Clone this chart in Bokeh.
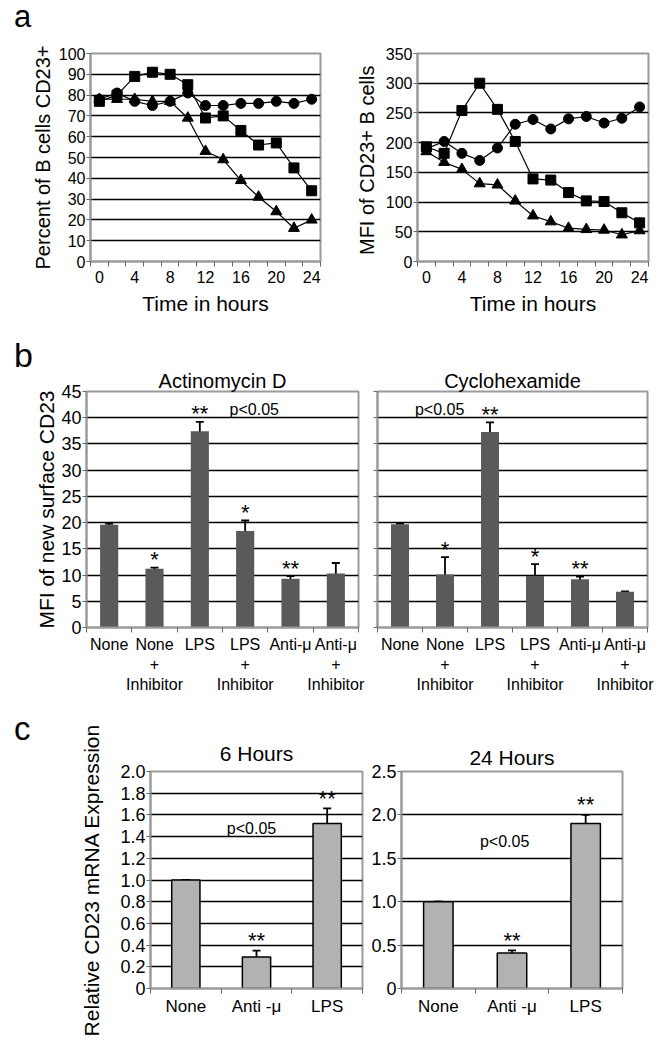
from bokeh.plotting import figure
from bokeh.layouts import column, row
from bokeh.models import ColumnDataSource, FixedTicker, Whisker, TeeHead, Label, Title, Div
from bokeh.core.properties import value
from bokeh.embed import file_html
from bokeh.resources import INLINE

FONT = "Liberation Sans"

# ---------------- panel a data ----------------
hours = [0, 2, 4, 6, 8, 10, 12, 14, 16, 18, 20, 22, 24]
hour_ticks = [0, 4, 8, 12, 16, 20, 24]
hour_bounds = [-1, 1, 3, 5, 7, 9, 11, 13, 15, 17, 19, 21, 23, 25]

pct_square = [77, 80, 89, 91, 90, 85, 69, 70, 63, 56, 57, 45, 34]
pct_circle = [78, 81, 77, 75, 77, 81, 75, 75, 76, 76, 77, 76, 78]
pct_triangle = [78, 78, 78, 77, 77, 69, 53, 49, 39, 31, 24, 16, 20]
pct_ticks = [0, 10, 20, 30, 40, 50, 60, 70, 80, 90, 100]

mfi_square = [193, 182, 254, 300, 256, 202, 139, 137, 116, 102, 101, 82, 65]
mfi_circle = [190, 202, 182, 170, 191, 231, 239, 223, 240, 244, 233, 241, 260]
mfi_triangle = [185, 167, 155, 131, 129, 102, 77, 67, 56, 54, 53, 45, 52]
mfi_ticks = [0, 50, 100, 150, 200, 250, 300, 350]

# ---------------- panel b data ----------------
b_categories = ["None", "None\n+\nInhibitor", "LPS", "LPS\n+\nInhibitor",
                "Anti-\u03bc", "Anti-\u03bc\n+\nInhibitor"]
act_mean = [19.6, 11.2, 37.4, 18.4, 9.3, 10.3]
act_err = [0.2, 0.2, 1.8, 2.0, 0.5, 2.0]
act_stars = ["", "*", "**", "*", "**", ""]
cyc_mean = [19.7, 10.1, 37.3, 9.8, 9.2, 6.8]
cyc_err = [0.2, 3.3, 1.8, 2.3, 0.5, 0.1]
cyc_stars = ["", "*", "**", "*", "**", ""]
b_ticks = [0, 5, 10, 15, 20, 25, 30, 35, 40, 45]

# ---------------- panel c data ----------------
c_categories = ["None", "Anti -\u03bc", "LPS"]
h6_mean = [1.0, 0.29, 1.52]
h6_err = [0.0, 0.06, 0.14]
h6_stars = ["", "**", "**"]
h24_mean = [1.0, 0.41, 1.90]
h24_err = [0.0, 0.03, 0.10]
h24_stars = ["", "**", "**"]
h6_ticks = [0, 0.2, 0.4, 0.6, 0.8, 1.0, 1.2, 1.4, 1.6, 1.8, 2.0]
h24_ticks = [0, 0.5, 1.0, 1.5, 2.0, 2.5]

GRAY = "#9a9a9a"


def base_fig(w, h, borders, x_range, y_range):
    L, R, T, B = borders
    p = figure(width=w, height=h, x_range=x_range, y_range=y_range,
               output_backend="svg", toolbar_location=None,
               min_border_left=L, min_border_right=R,
               min_border_top=T, min_border_bottom=B)
    p.background_fill_color = "white"
    p.border_fill_color = "white"
    p.outline_line_color = GRAY
    p.outline_line_width = 2
    p.xgrid.visible = False
    p.ygrid.grid_line_color = "black"
    p.ygrid.grid_line_width = 1.5
    for ax in p.axis:
        ax.axis_line_color = GRAY
        ax.axis_line_width = 2
        ax.major_label_text_font = FONT
        ax.major_label_text_color = "black"
        ax.axis_label_text_font = FONT
        ax.axis_label_text_font_style = "normal"
        ax.axis_label_text_color = "black"
    return p


def add_title(p, text, standoff, size="21px"):
    p.add_layout(Title(text=text, align="center", text_font=FONT,
                       text_font_size=size, text_font_style="normal",
                       text_color="black", standoff=standoff), "above")


def letter_div(w, h, letter, left, top, size):
    return Div(text=letter, width=w, height=h, margin=(0, 0, 0, 0),
               styles={"font-family": FONT, "font-size": f"{size}px",
                       "line-height": "1", "padding-left": f"{left}px",
                       "padding-top": f"{top}px", "color": "black",
                       "overflow": "visible"})


def style_y(p, ticks, font_size, label=None, label_size="21px",
            label_standoff=6, show_labels=True, overrides=None):
    ax = p.yaxis[0]
    ax.ticker = FixedTicker(ticks=ticks)
    ax.major_tick_line_color = "#666666"
    ax.major_tick_out = 4
    ax.major_tick_in = 0
    ax.minor_tick_line_color = None
    ax.major_label_standoff = 1
    ax.major_label_text_font_size = font_size
    if not show_labels:
        ax.major_label_overrides = {float(t): "" for t in ticks}
        ax.major_label_standoff = 0
    elif overrides:
        ax.major_label_overrides = overrides
    if label:
        ax.axis_label = label
        ax.axis_label_text_font_size = label_size
        ax.axis_label_standoff = label_standoff
    p.ygrid[0].ticker = FixedTicker(ticks=ticks[1:-1])


def style_x(p, centers, bounds, font_size, overrides=None, label=None,
            label_size="21px", standoff=4, label_standoff=6):
    ax = p.xaxis[0]
    ax.ticker = FixedTicker(ticks=centers, minor_ticks=bounds)
    ax.major_tick_line_color = None
    ax.major_tick_out = 4
    ax.major_tick_in = 0
    ax.minor_tick_line_color = "#666666"
    ax.minor_tick_out = 5
    ax.minor_tick_in = 0
    ax.major_label_text_font_size = font_size
    ax.major_label_standoff = standoff
    if overrides:
        ax.major_label_overrides = overrides
    if label:
        ax.axis_label = label
        ax.axis_label_text_font_size = label_size
        ax.axis_label_standoff = label_standoff


def add_p(p, x, y, size="16px"):
    p.add_layout(Label(x=x, y=y, text="p<0.05", text_font=FONT,
                       text_font_size=size, text_align="center",
                       text_baseline="middle", text_color="black"))


def line_panel(w, h, borders, y_max, ticks, sq, ci, tr, ylabel, lstand):
    p = base_fig(w, h, borders, (-1, 25), (0, y_max))
    for vals in (tr, ci, sq):
        p.line(hours, vals, line_color="black", line_width=1.2)
    p.scatter(hours, tr, marker="triangle", size=11, color="black")
    p.scatter(hours, ci, marker="circle", size=10, color="black")
    p.scatter(hours, sq, marker="square", size=10, color="black")
    style_y(p, ticks, "16px", label=ylabel, label_size="20px",
            label_standoff=lstand)
    style_x(p, hour_ticks, hour_bounds, "16px", label="Time in hours",
            label_size="21px", standoff=4, label_standoff=6)
    return p


def bar_panel(w, h, borders, cats, means, errs, stars, y_max, title,
              bar_color, bar_line, bar_font, star_offset, title_standoff,
              title_size):
    idx = list(range(len(cats)))
    src = ColumnDataSource(dict(
        x=idx, top=means,
        upper=[m + e for m, e in zip(means, errs)],
        lower=[m - e for m, e in zip(means, errs)],
        stars=stars))
    p = base_fig(w, h, borders, (-0.5, len(cats) - 0.5), (0, y_max))
    add_title(p, title, title_standoff, title_size)
    if bar_line:
        p.vbar(x="x", top="top", width=0.4, source=src, fill_color=bar_color,
               line_color="black", line_width=1.5)
    else:
        p.vbar(x="x", top="top", width=0.4, source=src, fill_color=bar_color,
               line_color=None)
    p.add_layout(Whisker(source=src, base="x", upper="upper", lower="lower",
                         line_color="black", line_width=1.8,
                         upper_head=TeeHead(size=8, line_width=1.8, line_color="black"),
                         lower_head=TeeHead(size=8, line_width=1.8, line_color="black")))
    p.text(x="x", y="upper", text="stars", source=src, text_font=value(FONT),
           text_font_size="22px", text_align="center",
           text_baseline="alphabetic", y_offset=star_offset, text_color="black")
    style_x(p, idx, [i - 0.5 for i in range(len(cats) + 1)], bar_font,
            overrides={float(i): c for i, c in enumerate(cats)}, standoff=3)
    return p


# ---------------- panel a ----------------
band_a = letter_div(60, 38, "a", 14, 1, 31)
a1 = line_panel(338, 293, (90, 18, 15, 70), 100, pct_ticks,
                pct_square, pct_circle, pct_triangle,
                "Percent of B cells CD23+", 2)
a2 = line_panel(330, 293, (79, 20, 15, 70), 350, mfi_ticks,
                mfi_square, mfi_circle, mfi_triangle,
                "MFI of CD23+  B cells", 5)

# ---------------- panel b ----------------
band_b = letter_div(60, 36, "b", 14, 7, 34)
b1 = bar_panel(368, 331, (86, 10, 24, 71), b_categories, act_mean, act_err,
               act_stars, 45, "Actinomycin D", "#5a5a5a", False, "16px",
               -8, 0, "20px")
style_y(b1, b_ticks, "18px", label="MFI of new surface CD23",
        label_size="21px", label_standoff=0)
add_p(b1, 3.2, 41.5)

b2 = bar_panel(300, 331, (9, 21, 24, 71), b_categories, cyc_mean, cyc_err,
               cyc_stars, 45, "Cyclohexamide", "#5a5a5a", False, "16px",
               -8, 0, "20px")
style_y(b2, b_ticks, "18px", show_labels=False)
add_p(b2, 0.88, 41.6)

# ---------------- panel c ----------------
h6_over = {float(t): ("0" if t == 0 else f"{t:.1f}") for t in h6_ticks}
h24_over = {float(t): ("0" if t == 0 else f"{t:.1f}") for t in h24_ticks}

c_left = letter_div(60, 350, "c", 14, 14, 33)
c1 = bar_panel(308, 350, (90, 6, 73, 60), c_categories, h6_mean, h6_err,
               h6_stars, 2.0, "6 Hours", "#b2b2b2", True, "17px", -10, 14,
               "21px")
style_y(c1, h6_ticks, "18px", label="Relative CD23 mRNA Expression",
        label_size="21px", label_standoff=14, overrides=h6_over)
add_p(c1, 0.93, 1.475)

c2 = bar_panel(300, 350, (31, 46, 70, 60), c_categories, h24_mean, h24_err,
               h24_stars, 2.5, "24 Hours", "#b2b2b2", True, "17px", -10, 5,
               "21px")
style_y(c2, h24_ticks, "18px", overrides=h24_over)
add_p(c2, 0.9, 1.69)

layout = column(band_a, row(a1, a2), band_b, row(b1, b2), row(c_left, c1, c2))
open("out.html", "w").write(file_html(layout, INLINE))
